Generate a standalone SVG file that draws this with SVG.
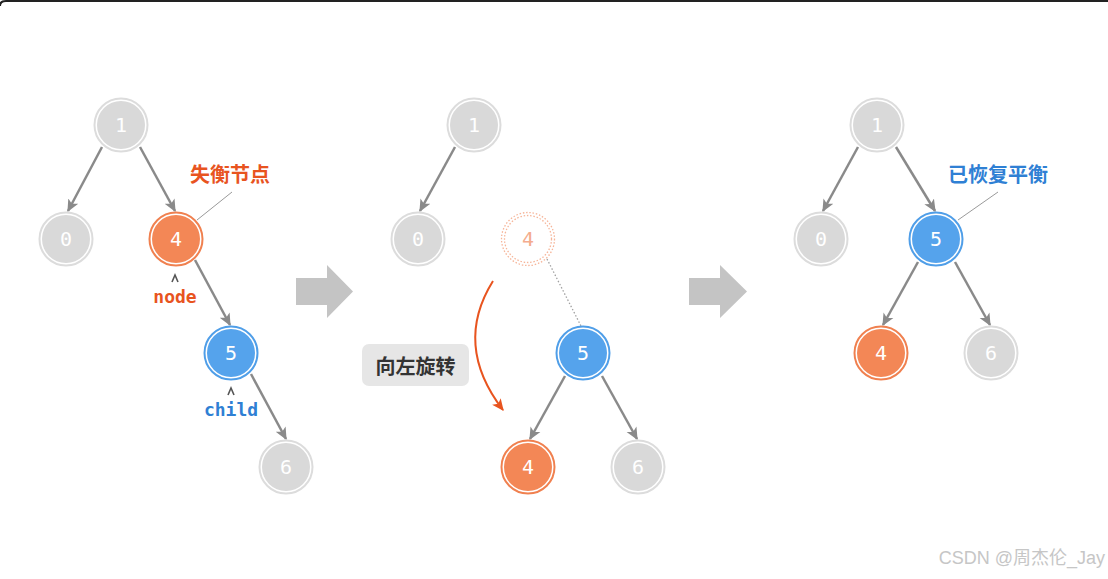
<svg xmlns="http://www.w3.org/2000/svg" width="1108" height="579" viewBox="0 0 1108 579">
<style>
.ring{fill:#fff;stroke-width:2}
.g .ring{stroke:#dcdcdc}.g .core{fill:#d9d9d9}
.o .ring{stroke:#f0804f}.o .core{fill:#f38756}
.b .ring{stroke:#4f9ee8}.b .core{fill:#55a3ec}
.num{font-family:"DejaVu Sans Mono",monospace;font-size:20px;fill:#fff;text-anchor:middle;dominant-baseline:central}
.edge{stroke:#8a8a8a;stroke-width:2.5;fill:none;marker-end:url(#ah)}
.lead{stroke:#9a9a9a;stroke-width:1;fill:none}
.cjk{font-family:"Noto Sans CJK SC",sans-serif;font-weight:bold;font-size:20px;text-anchor:middle;dominant-baseline:central}
.mono{font-family:"DejaVu Sans Mono",monospace;font-weight:bold;font-size:18px;text-anchor:middle;dominant-baseline:central}
.big{fill:#c4c4c4}
.caret{fill:none;stroke:#555;stroke-width:1.6}
</style>
<defs>
<marker id="ah" viewBox="0 0 10 10" refX="9" refY="5" markerWidth="5" markerHeight="5" orient="auto" markerUnits="strokeWidth">
<path d="M0,0.5 L10,5 L0,9.5 L2.5,5 Z" fill="#8a8a8a"/>
</marker>
<marker id="ao" viewBox="0 0 10 10" refX="9" refY="5" markerWidth="6" markerHeight="6" orient="auto" markerUnits="strokeWidth">
<path d="M0,0.5 L10,5 L0,9.5 L2.5,5 Z" fill="#e8541f"/>
</marker>
</defs>
<rect width="1108" height="579" fill="#fff"/>
<path d="M0,6 Q0,1 6,1 L1108,1" fill="none" stroke="#222" stroke-width="2"/>

<g id="connectors">
<line class="edge" x1="102" y1="147" x2="68" y2="211"/>
<line class="edge" x1="140" y1="147" x2="175" y2="211"/>
<line class="edge" x1="195" y1="260" x2="230" y2="325"/>
<line class="edge" x1="251" y1="374" x2="286" y2="439"/>
<line class="edge" x1="455" y1="147" x2="420" y2="211"/>
<line class="edge" x1="565" y1="376" x2="530" y2="439"/>
<line class="edge" x1="602" y1="376" x2="637" y2="439"/>
<line class="edge" x1="858" y1="147" x2="823" y2="211"/>
<line class="edge" x1="896" y1="147" x2="935" y2="211"/>
<line class="edge" x1="918" y1="262" x2="883" y2="325"/>
<line class="edge" x1="955" y1="262" x2="990" y2="325"/>
<line x1="547" y1="259" x2="581" y2="326" stroke="#a0a0a0" stroke-width="1.3" stroke-dasharray="1.5 2"/>
<path d="M493,281 Q453,345 503,410" fill="none" stroke="#e8541f" stroke-width="2" marker-end="url(#ao)"/>
<line class="lead" x1="232" y1="192" x2="197" y2="220"/>
<line class="lead" x1="998" y1="192" x2="958" y2="220"/>
</g>

<g id="arrow1"><path class="big" d="M296,278 H327 V265 L353,291.5 L327,318 V305 H296 Z"/></g>
<g id="arrow2"><path class="big" d="M689,278 H720 V265 L747,291.5 L720,318 V305 H689 Z"/></g>

<g id="p1-n1" class="g"><circle class="ring" cx="121" cy="125" r="26.5"/><circle class="core" cx="121" cy="125" r="24"/><text class="num" x="121" y="125">1</text></g>
<g id="p1-n0" class="g"><circle class="ring" cx="66" cy="239" r="26.5"/><circle class="core" cx="66" cy="239" r="24"/><text class="num" x="66" y="239">0</text></g>
<g id="p1-n4" class="o"><circle class="ring" cx="176" cy="239" r="26.5"/><circle class="core" cx="176" cy="239" r="24"/><text class="num" x="176" y="239">4</text></g>
<g id="p1-n5" class="b"><circle class="ring" cx="231" cy="353" r="26.5"/><circle class="core" cx="231" cy="353" r="24"/><text class="num" x="231" y="353">5</text></g>
<g id="p1-n6" class="g"><circle class="ring" cx="286" cy="467" r="26.5"/><circle class="core" cx="286" cy="467" r="24"/><text class="num" x="286" y="467">6</text></g>

<g id="p1-labels">
<text class="cjk" x="230" y="173" fill="#e8541f">失衡节点</text>
<path class="caret" d="M172,282 L175,275 L178,282"/>
<text class="mono" x="175" y="296" fill="#e8541f">node</text>
<path class="caret" d="M228,395 L231,388 L234,395"/>
<text class="mono" x="231" y="409" fill="#2f80d4">child</text>
</g>

<g id="p2-n1" class="g"><circle class="ring" cx="474" cy="125" r="26.5"/><circle class="core" cx="474" cy="125" r="24"/><text class="num" x="474" y="125">1</text></g>
<g id="p2-n0" class="g"><circle class="ring" cx="418" cy="239" r="26.5"/><circle class="core" cx="418" cy="239" r="24"/><text class="num" x="418" y="239">0</text></g>
<g id="p2-ghost4"><circle cx="528" cy="239" r="26.5" fill="none" stroke="#f6b599" stroke-width="1.3" stroke-dasharray="1.5 1.8"/><circle cx="528" cy="239" r="23.5" fill="none" stroke="#f6b599" stroke-width="1.3" stroke-dasharray="1.5 1.8"/><text class="num" x="528" y="239" style="fill:#f4ac8e">4</text></g>
<g id="p2-n5" class="b"><circle class="ring" cx="583" cy="353" r="26.5"/><circle class="core" cx="583" cy="353" r="24"/><text class="num" x="583" y="353">5</text></g>
<g id="p2-n4" class="o"><circle class="ring" cx="528" cy="467" r="26.5"/><circle class="core" cx="528" cy="467" r="24"/><text class="num" x="528" y="467">4</text></g>
<g id="p2-n6" class="g"><circle class="ring" cx="638" cy="467" r="26.5"/><circle class="core" cx="638" cy="467" r="24"/><text class="num" x="638" y="467">6</text></g>
<g id="p2-label"><rect x="362" y="344" width="107" height="42" rx="7" fill="#e6e6e6"/><text class="cjk" x="415.5" y="365" fill="#333">向左旋转</text></g>

<g id="p3-n1" class="g"><circle class="ring" cx="877" cy="125" r="26.5"/><circle class="core" cx="877" cy="125" r="24"/><text class="num" x="877" y="125">1</text></g>
<g id="p3-n0" class="g"><circle class="ring" cx="821" cy="239" r="26.5"/><circle class="core" cx="821" cy="239" r="24"/><text class="num" x="821" y="239">0</text></g>
<g id="p3-n5" class="b"><circle class="ring" cx="936" cy="239" r="26.5"/><circle class="core" cx="936" cy="239" r="24"/><text class="num" x="936" y="239">5</text></g>
<g id="p3-n4" class="o"><circle class="ring" cx="881" cy="353" r="26.5"/><circle class="core" cx="881" cy="353" r="24"/><text class="num" x="881" y="353">4</text></g>
<g id="p3-n6" class="g"><circle class="ring" cx="991" cy="353" r="26.5"/><circle class="core" cx="991" cy="353" r="24"/><text class="num" x="991" y="353">6</text></g>
<g id="p3-label"><text class="cjk" x="998" y="173" fill="#2f80d4">已恢复平衡</text></g>

<text x="1105" y="558" font-family="'Liberation Sans','Noto Sans CJK SC',sans-serif" font-size="18" fill="#c6c6c6" text-anchor="end" dominant-baseline="central">CSDN @周杰伦_Jay</text>
</svg>
